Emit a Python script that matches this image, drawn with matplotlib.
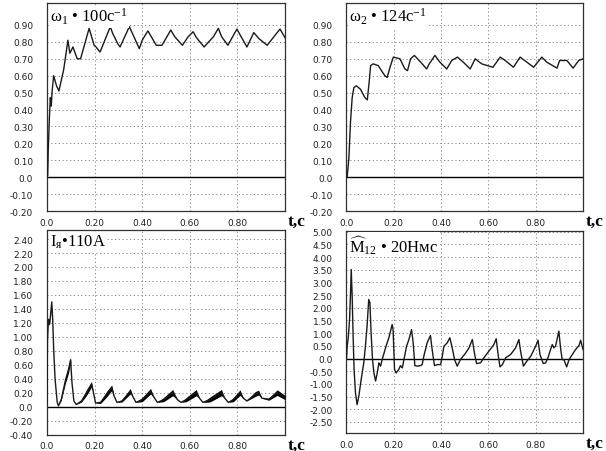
import numpy as np
import matplotlib
matplotlib.use('Agg')
import matplotlib.pyplot as plt
from matplotlib.ticker import FixedLocator, FuncFormatter

# --- data (t in seconds, values in relative units) ---
omega1_t = [0.0, 0.003, 0.005, 0.010, 0.014, 0.018, 0.021, 0.028, 0.040, 0.050,
            0.070, 0.088, 0.096, 0.109, 0.127, 0.141, 0.177, 0.198, 0.206, 0.223,
            0.266, 0.276, 0.297, 0.307, 0.346, 0.388, 0.400, 0.424, 0.459, 0.483,
            0.520, 0.537, 0.569, 0.593, 0.614, 0.628, 0.660, 0.699, 0.720, 0.734,
            0.760, 0.798, 0.812, 0.840, 0.869, 0.890, 0.925, 0.979, 1.0]
omega1_v = [0.0, 0.01, 0.15, 0.35, 0.47, 0.42, 0.50, 0.60, 0.54, 0.51,
            0.635, 0.81, 0.733, 0.77, 0.70, 0.70, 0.88, 0.78, 0.77, 0.74,
            0.89, 0.85, 0.79, 0.77, 0.89, 0.76, 0.81, 0.865, 0.78, 0.78,
            0.87, 0.83, 0.78, 0.83, 0.86, 0.825, 0.77, 0.83, 0.88, 0.83,
            0.78, 0.876, 0.84, 0.77, 0.855, 0.82, 0.78, 0.876, 0.825]

omega2_t = [0.0, 0.003, 0.010, 0.017, 0.024, 0.031, 0.042, 0.059, 0.078, 0.088,
            0.096, 0.102, 0.113, 0.134, 0.162, 0.172, 0.184, 0.198, 0.226, 0.247,
            0.258, 0.271, 0.287, 0.314, 0.339, 0.350, 0.374, 0.395, 0.424, 0.445,
            0.469, 0.494, 0.523, 0.544, 0.572, 0.619, 0.650, 0.671, 0.706, 0.734,
            0.763, 0.791, 0.826, 0.847, 0.890, 0.901, 0.932, 0.958, 0.982, 1.0]
omega2_v = [0.0, 0.005, 0.11, 0.33, 0.47, 0.53, 0.54, 0.52, 0.47, 0.457,
            0.565, 0.66, 0.67, 0.66, 0.60, 0.59, 0.65, 0.71, 0.70, 0.64,
            0.63, 0.70, 0.72, 0.68, 0.64, 0.67, 0.72, 0.68, 0.64, 0.69,
            0.71, 0.68, 0.64, 0.70, 0.67, 0.65, 0.71, 0.69, 0.65, 0.71,
            0.68, 0.65, 0.71, 0.68, 0.645, 0.69, 0.69, 0.645, 0.69, 0.70]

# armature current, with half-width of the ripple band on the rising slopes
ia_t = [0.0, 0.002, 0.006, 0.010, 0.014, 0.020, 0.024, 0.028, 0.034, 0.043,
        0.048, 0.060, 0.077, 0.091, 0.099, 0.105, 0.113, 0.123, 0.145, 0.166,
        0.187, 0.194, 0.204, 0.225, 0.251, 0.272, 0.282, 0.294, 0.315, 0.350,
        0.360, 0.374, 0.400, 0.435, 0.450, 0.464, 0.490, 0.528, 0.548, 0.563,
        0.585, 0.627, 0.641, 0.655, 0.684, 0.733, 0.747, 0.762, 0.783, 0.811,
        0.825, 0.840, 0.875, 0.889, 0.903, 0.932, 0.967, 1.0]
ia_v = [0.05, 0.95, 1.25, 1.18, 1.28, 1.50, 1.25, 0.82, 0.39, 0.06,
        0.01, 0.105, 0.37, 0.54, 0.67, 0.34, 0.08, 0.03, 0.08, 0.20,
        0.32, 0.22, 0.05, 0.06, 0.18, 0.27, 0.15, 0.06, 0.08, 0.22,
        0.15, 0.06, 0.10, 0.22, 0.13, 0.06, 0.10, 0.20, 0.10, 0.06,
        0.10, 0.20, 0.12, 0.06, 0.10, 0.20, 0.12, 0.06, 0.10, 0.20,
        0.12, 0.08, 0.18, 0.20, 0.12, 0.105, 0.20, 0.13]
ia_w = [0, 0, 0.02, 0.02, 0.02, 0, 0, 0, 0, 0,
        0, 0.015, 0.04, 0.05, 0.03, 0, 0, 0, 0.015, 0.04,
        0.04, 0, 0, 0.015, 0.04, 0.04, 0, 0, 0.015, 0.04,
        0, 0, 0.03, 0.04, 0, 0, 0.03, 0.045, 0, 0,
        0.03, 0.045, 0, 0, 0.035, 0.045, 0, 0, 0.03, 0.04,
        0, 0, 0.035, 0.035, 0, 0.015, 0.04, 0.03]

m12_t = [0.0, 0.003, 0.008, 0.013, 0.017, 0.020, 0.024, 0.028, 0.032, 0.038,
         0.045, 0.052, 0.062, 0.073, 0.080, 0.087, 0.094, 0.099, 0.104, 0.110,
         0.116, 0.123, 0.130, 0.137, 0.144, 0.151, 0.165, 0.179, 0.193, 0.197,
         0.203, 0.210, 0.221, 0.228, 0.236, 0.243, 0.254, 0.264, 0.275, 0.282,
         0.289, 0.299, 0.313, 0.320, 0.327, 0.341, 0.355, 0.362, 0.372, 0.384,
         0.398, 0.405, 0.412, 0.419, 0.426, 0.437, 0.447, 0.457, 0.468, 0.482,
         0.504, 0.518, 0.532, 0.542, 0.550, 0.567, 0.581, 0.602, 0.623, 0.633,
         0.642, 0.649, 0.659, 0.673, 0.694, 0.715, 0.729, 0.736, 0.748, 0.762,
         0.779, 0.800, 0.810, 0.818, 0.832, 0.842, 0.852, 0.863, 0.870, 0.877,
         0.884, 0.898, 0.905, 0.912, 0.919, 0.931, 0.941, 0.955, 0.969, 0.983,
         0.990, 1.0]
m12_v = [0.0, 0.49, 0.88, 1.54, 2.59, 3.51, 2.46, 0.88, -0.43, -1.36,
         -1.82, -1.49, -0.83, -0.17, 0.49, 1.28, 2.33, 2.20, 1.01, -0.04,
         -0.57, -0.89, -0.57, -0.17, -0.30, -0.04, 0.42, 0.82, 1.34, 1.14,
         -0.43, -0.57, -0.43, -0.28, -0.37, -0.04, 0.49, 0.75, 1.14, 0.62,
         -0.28, -0.30, -0.28, -0.24, 0.09, 0.62, 0.91, 0.36, -0.28, -0.24,
         -0.24, 0.09, 0.49, 0.55, 0.62, 0.82, 0.42, -0.04, -0.30, -0.04,
         0.22, 0.42, 0.75, 0.16, -0.20, -0.17, 0.03, 0.29, 0.55, 0.78,
         0.09, -0.33, -0.24, 0.03, 0.16, 0.42, 0.75, 0.29, -0.30, -0.11,
         0.09, 0.49, 0.72, 0.16, -0.20, -0.17, 0.03, 0.36, 0.55, 0.42,
         0.49, 1.08, 0.42, -0.04, -0.04, -0.33, -0.04, 0.16, 0.36, 0.51,
         0.72, 0.36]

x_ticks = [0.0, 0.2, 0.4, 0.6, 0.8]
y_ticks_omega = [-0.2, -0.1, 0.0, 0.1, 0.2, 0.3, 0.4, 0.5, 0.6, 0.7, 0.8, 0.9]
y_ticks_ia = [-0.4, -0.2, 0.0, 0.2, 0.4, 0.6, 0.8, 1.0, 1.2, 1.4, 1.6, 1.8, 2.0, 2.2, 2.4]
y_ticks_m = [-2.5, -2.0, -1.5, -1.0, -0.5, 0.0, 0.5, 1.0, 1.5, 2.0, 2.5, 3.0, 3.5, 4.0, 4.5, 5.0]

titles = ['ω$_1$ • 100c$^{-1}$', 'ω$_2$ • 124c$^{-1}$',
          'I$_{\\mathrm{я}}$•110A', '$\\widehat{\\mathrm{M}}_{12}$ • 20Нмс']

plt.rcParams['mathtext.fontset'] = 'custom'
plt.rcParams['mathtext.rm'] = 'Liberation Serif'
plt.rcParams['mathtext.it'] = 'Liberation Serif:italic'

W, H = 606, 452
fig = plt.figure(figsize=(W / 100, H / 100), dpi=100)

# axes boxes in pixels: left, top, right, bottom
boxes = [(47, 4, 285, 212), (346.5, 4, 583, 212),
         (47, 231, 285, 435.5), (346.5, 231.5, 583, 434.3)]
ylims = [(-0.2, 1.03), (-0.2, 1.03), (-0.4, 2.53), (-2.95, 5.05)]
yticks = [y_ticks_omega, y_ticks_omega, y_ticks_ia, y_ticks_m]


def fmt(v, pos):
    if abs(v) < 1e-9:
        return '0.0'
    return '%.2f' % v


grid_kw = dict(color='#7a7a7a', lw=0.6, ls=(0, (1.5, 3)), zorder=1)

axes = []
for (l, t, r, b), yl, yt, title in zip(boxes, ylims, yticks, titles):
    ax = fig.add_axes([l / W, 1 - b / H, (r - l) / W, (b - t) / H])
    ax.set_xlim(0, 1.0)
    ax.set_ylim(*yl)
    ax.xaxis.set_major_locator(FixedLocator(x_ticks))
    ax.yaxis.set_major_locator(FixedLocator(yt))
    ax.xaxis.set_major_formatter(FuncFormatter(fmt))
    ax.yaxis.set_major_formatter(FuncFormatter(fmt))
    ax.tick_params(length=0, labelsize=6.5, labelcolor='#222222')
    ax.tick_params(axis='y', pad=10)
    ax.tick_params(axis='x', pad=5)
    # dotted grid, no line at x=0
    for x in x_ticks[1:]:
        ax.axvline(x, **grid_kw)
    for y in yt:
        if abs(y) > 1e-9:
            ax.axhline(y, **grid_kw)
    ax.axhline(0, color='black', lw=1.0, zorder=2)
    for s in ax.spines.values():
        s.set_color('#303030')
        s.set_linewidth(0.9)
    ax.text(0.012, 0.985, title, transform=ax.transAxes, ha='left', va='top',
            fontsize=12, family='Liberation Serif', zorder=5,
            bbox=dict(facecolor='white', edgecolor='none', pad=1.0))
    ax.annotate('t,c', xy=(1, 0), xycoords='axes fraction', xytext=(3, -10),
                textcoords='offset pixels', ha='left', va='center',
                fontsize=12.5, family='Liberation Serif', fontweight='bold',
                annotation_clip=False)
    axes.append(ax)

line_kw = dict(color='#1a1a1a', lw=1.0, zorder=3)
axes[0].plot(omega1_t, omega1_v, **line_kw)
axes[1].plot(omega2_t, omega2_v, **line_kw)

ia_v = np.array(ia_v)
ia_w = np.array(ia_w)
axes[2].fill_between(ia_t, ia_v - ia_w, ia_v + ia_w, color='black', lw=0, zorder=3)
axes[2].plot(ia_t, ia_v, **line_kw)

axes[3].plot(m12_t, m12_v, **line_kw)

fig.savefig('out.png', dpi=100)
